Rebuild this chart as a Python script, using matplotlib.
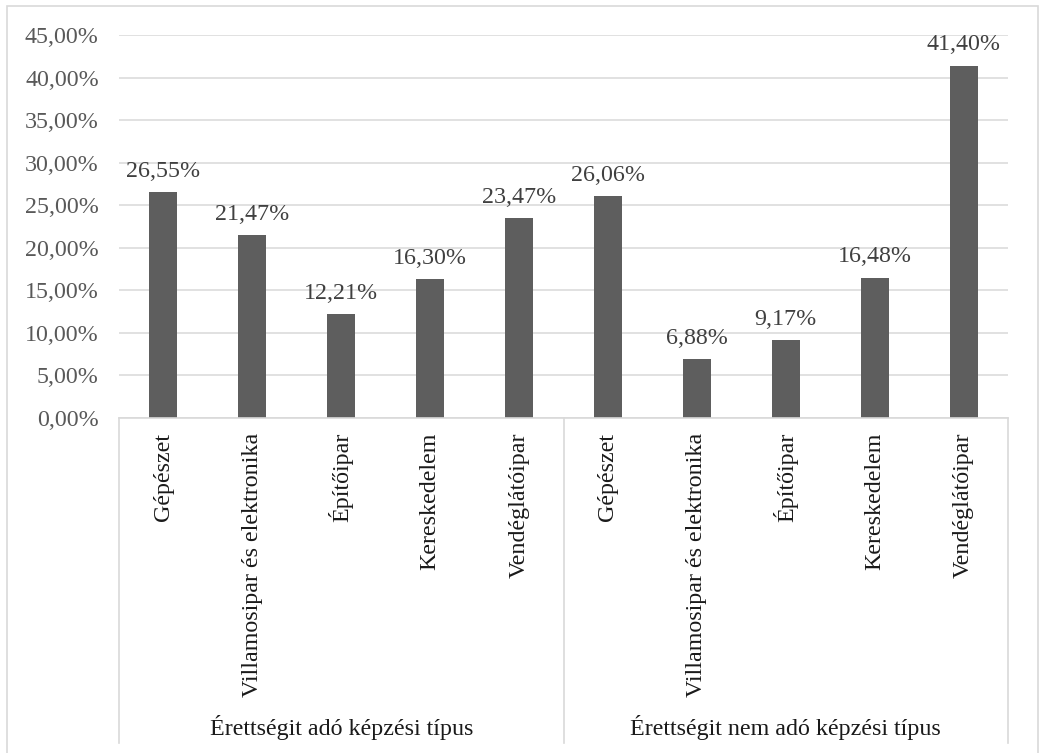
import matplotlib
matplotlib.use("Agg")
import matplotlib.pyplot as plt
from matplotlib.patches import Rectangle
from matplotlib.ticker import FuncFormatter, MultipleLocator

# Data
groups = ["Érettségit adó képzési típus", "Érettségit nem adó képzési típus"]
categories = ["Gépészet", "Villamosipar és elektronika", "Építőipar",
              "Kereskedelem", "Vendéglátóipar"]
values_adó = [26.55, 21.47, 12.21, 16.30, 23.47]
values_nem_adó = [26.06, 6.88, 9.17, 16.48, 41.40]

values = values_adó + values_nem_adó
labels = categories * len(groups)

W, H = 1042, 753
plt.rcParams["font.family"] = ["Liberation Serif", "DejaVu Serif"]
FS = 17.3
GRID = "#d9d9d9"

fig = plt.figure(figsize=(W / 100, H / 100), dpi=100)

# outer chart border
fig.patches.append(Rectangle((7 / W, -0.05), (1038 - 7) / W, 1.05 - 6.5 / H,
                             transform=fig.transFigure, fill=False,
                             edgecolor=GRID, linewidth=1.2))

left, right, top, bottom = 119, 1008, 35, 418
ax = fig.add_axes([left / W, 1 - bottom / H, (right - left) / W, (bottom - top) / H])

x = list(range(len(values)))
bars = ax.bar(x, values, width=0.315, color="#5e5e5e", zorder=3)

ax.set_xlim(-0.5, len(values) - 0.5)
ax.set_ylim(0, 45)
ax.yaxis.set_major_locator(MultipleLocator(5))
ax.yaxis.set_major_formatter(FuncFormatter(lambda v, p: f"{v:.2f}".replace(".", ",") + "%"))
ax.grid(axis="y", color=GRID, linewidth=1.1, zorder=0)
ax.set_xticks([])
ax.tick_params(axis="y", length=0, pad=14.5, labelsize=FS, labelcolor="#595959")
for s in ax.spines.values():
    s.set_visible(False)

# value labels above each bar
for xi, v in zip(x, values):
    ax.annotate(f"{v:.2f}".replace(".", ",") + "%", (xi, v),
                xytext=(0, 11), textcoords="offset points",
                ha="center", va="baseline", fontsize=FS, color="#404040")

# multi-level category axis
axis_h = bottom - top
depth = (743 - bottom) / axis_h
xt = ax.get_xaxis_transform()
ax.plot([-0.5, len(values) - 0.5], [0, 0], transform=xt, color=GRID,
        linewidth=1.2, clip_on=False, zorder=4)
n = len(categories)
for b in range(len(groups) + 1):
    xb = b * n - 0.5
    ax.plot([xb, xb], [0, -depth], transform=xt, color=GRID,
            linewidth=1.2, clip_on=False)

for xi, lab in zip(x, labels):
    ax.text(xi, -15 / axis_h, lab, transform=xt, rotation=90,
            ha="center", va="top", fontsize=FS, color="#1a1a1a")

for gi, g in enumerate(groups):
    ax.text(gi * n + (n - 1) / 2, -(728 - bottom) / axis_h, g, transform=xt,
            ha="center", va="center", fontsize=FS, color="#1a1a1a")

fig.savefig("out.png", dpi=100, facecolor="white")
